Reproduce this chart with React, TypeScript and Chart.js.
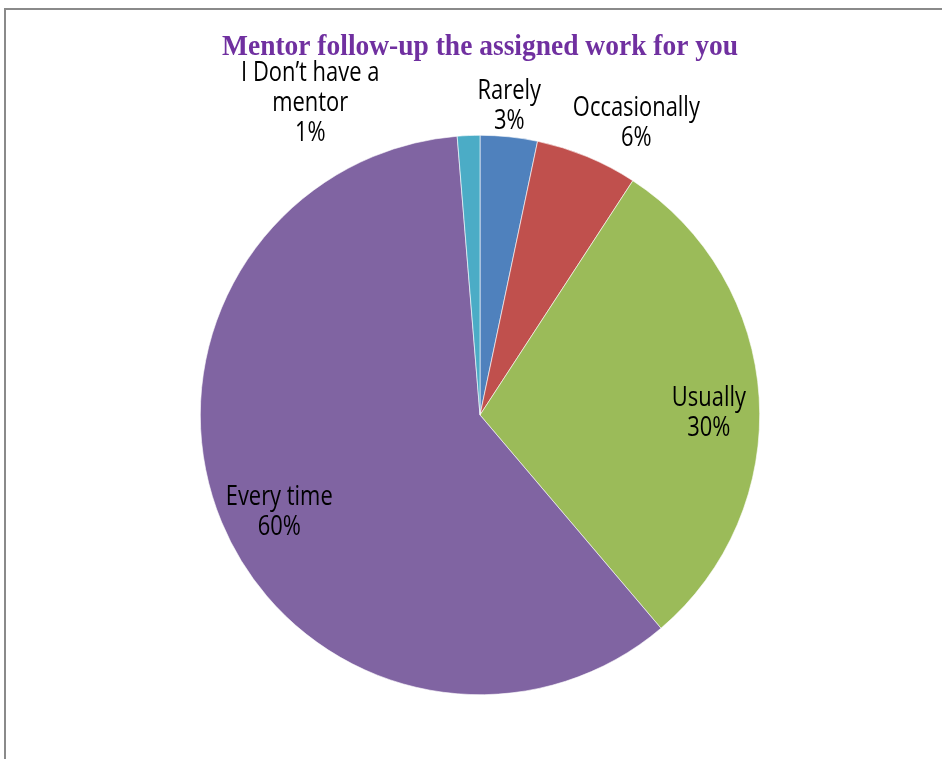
import React, { useEffect, useRef } from "react";
import { Chart, registerables } from "chart.js";

Chart.register(...registerables);

const chartTitle = "Mentor follow-up the assigned work for you";
const categories = ["Rarely", "Occasionally", "Usually", "Every time", "I Don’t have a mentor"];
const values = [3.3, 5.9, 29.6, 59.9, 1.3];
const colors = ["#4F81BD", "#C0504D", "#9BBB59", "#8064A2", "#4BACC6"];

// label placement: radial factor of outer radius + pixel nudge
const labelRadial = [1.115, 1.19, 0.82, 0.777, 1.12];
const labelNudge: [number, number][] = [[-3, 0], [29, 14], [0, 11], [0, 12], [-157, 0]];

const LABEL_FONT = "20px 'Open Sans', 'Liberation Sans', sans-serif";
const LABEL_REF_WORD = "Occasionally";
const LABEL_REF_WIDTH = 127;
const LABEL_CAP = 19;
const LINE_H = 30;

const TITLE_FONT = "bold 28px 'Liberation Serif', 'Times New Roman', serif";
const TITLE_WIDTH = 516;
const TITLE_CAP = 19;

function wrap(ctx: CanvasRenderingContext2D, text: string, maxW: number): string[] {
  const words = text.split(" ");
  const lines: string[] = [];
  let cur = "";
  for (const w of words) {
    const t = cur ? cur + " " + w : w;
    if (ctx.measureText(t).width > maxW && cur) {
      lines.push(cur);
      cur = w;
    } else cur = t;
  }
  if (cur) lines.push(cur);
  return lines;
}

function capH(ctx: CanvasRenderingContext2D) {
  return ctx.measureText("H").actualBoundingBoxAscent;
}

const framePlugin = {
  id: "frame",
  beforeDraw(chart: any) {
    const ctx = chart.ctx as CanvasRenderingContext2D;
    ctx.save();
    ctx.fillStyle = "#ffffff";
    ctx.fillRect(0, 0, chart.width, chart.height);
    ctx.strokeStyle = "#8a8a8a";
    ctx.lineWidth = 2;
    ctx.strokeRect(5, 9, chart.width + 20, chart.height + 20);
    ctx.restore();
  },
};

const titlePlugin = {
  id: "customTitle",
  afterDraw(chart: any) {
    const ctx = chart.ctx as CanvasRenderingContext2D;
    ctx.save();
    ctx.font = TITLE_FONT;
    ctx.fillStyle = "#7030A0";
    ctx.textAlign = "center";
    ctx.textBaseline = "alphabetic";
    const sx = TITLE_WIDTH / ctx.measureText(chartTitle).width;
    const sy = TITLE_CAP / capH(ctx);
    ctx.translate(480, 55);
    ctx.scale(sx, sy);
    ctx.fillText(chartTitle, 0, 0);
    ctx.restore();
  },
};

const labelPlugin = {
  id: "sliceLabels",
  afterDatasetsDraw(chart: any) {
    const ctx = chart.ctx as CanvasRenderingContext2D;
    const meta = chart.getDatasetMeta(0);
    const data = chart.data.datasets[0].data as number[];
    const total = data.reduce((a, b) => a + b, 0);
    ctx.save();
    ctx.font = LABEL_FONT;
    ctx.fillStyle = "#000000";
    ctx.textAlign = "center";
    ctx.textBaseline = "alphabetic";
    const sx = LABEL_REF_WIDTH / ctx.measureText(LABEL_REF_WORD).width;
    const sy = LABEL_CAP / capH(ctx);
    meta.data.forEach((arc: any, i: number) => {
      const p = arc.getProps(["x", "y", "startAngle", "endAngle", "outerRadius"], true);
      const mid = (p.startAngle + p.endAngle) / 2;
      const r = p.outerRadius * labelRadial[i];
      const cx = p.x + Math.cos(mid) * r + labelNudge[i][0];
      const cy = p.y + Math.sin(mid) * r + labelNudge[i][1];
      const lines = wrap(ctx, chart.data.labels[i], 150 / sx);
      lines.push(Math.round((data[i] / total) * 100) + "%");
      const top = cy - ((lines.length - 1) * LINE_H) / 2;
      lines.forEach((ln, k) => {
        ctx.save();
        ctx.translate(cx, top + k * LINE_H + LABEL_CAP / 2);
        ctx.scale(sx, sy);
        ctx.fillText(ln, 0, 0);
        ctx.restore();
      });
    });
    ctx.restore();
  },
};

export default function App() {
  const ref = useRef<HTMLCanvasElement | null>(null);
  useEffect(() => {
    if (!ref.current) return;
    const chart = new Chart(ref.current, {
      type: "pie",
      data: {
        labels: categories,
        datasets: [
          {
            data: values,
            backgroundColor: colors,
            borderColor: "#ffffff",
            borderWidth: 0.6,
          },
        ],
      },
      options: {
        responsive: false,
        animation: false,
        layout: { padding: { left: 200, right: 182, top: 135, bottom: 64 } },
        plugins: {
          legend: { display: false },
          title: { display: false },
          tooltip: { enabled: false },
        },
      },
      plugins: [framePlugin, titlePlugin, labelPlugin],
    });
    return () => chart.destroy();
  }, []);
  return (
    <div style={{ position: "fixed", left: 0, top: 0, width: 942, height: 759 }}>
      <canvas ref={ref} width={942} height={759} style={{ width: 942, height: 759 }} />
    </div>
  );
}
